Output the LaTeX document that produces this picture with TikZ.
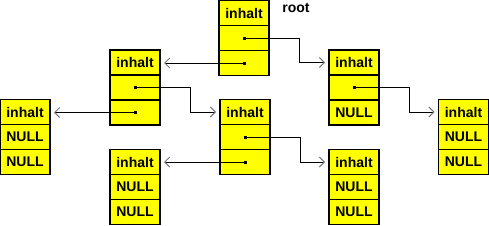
\documentclass[tikz,border=0pt]{standalone}
\usepackage{fontspec}
\setmainfont{Liberation Sans}
\usetikzlibrary{positioning,arrows.meta}
\definecolor{boxfill}{HTML}{FFFF00}
\definecolor{tipc}{HTML}{777777}

\begin{document}
\begin{tikzpicture}[
  x=1pt,y=-1pt,
  font=\bfseries\fontsize{14}{16}\selectfont,
  >={Straight Barb[length=5pt,width=10pt,color=tipc]},
  cell/.style={draw,fill=boxfill,line width=1.6pt,minimum width=50pt,
               minimum height=25pt,inner sep=0pt,outer sep=0pt},
  dot/.style={fill,inner sep=0pt,minimum size=3pt},
  ptr/.style={->,line width=1pt,shorten >=4pt},
]
\useasboundingbox (0,0) rectangle (489,225);

%----------------------------------------------------------------- nodes ---
\foreach \nm/\x/\y/\b/\c in {root/244/13/{}/{}, l/135/62.5/{}/{},
    ll/25/112/NULL/NULL, lr/245/112/{}/{}, lrl/135/162/NULL/NULL,
    r/354/62.5/{}/NULL, lrr/354/162/NULL/NULL, rr/463.5/112/NULL/NULL}{
  \node[cell] (\nm-1) at (\x,\y) {inhalt};
  \node[cell,below=0pt of \nm-1] (\nm-2) {\b};
  \node[cell,below=0pt of \nm-2] (\nm-3) {\c};
}
\node (rootlbl) at (296,8) {root};

%-------------------------------------------------------------- pointers ---
\foreach \p in {root-2,root-3,l-2,l-3,lr-2,lr-3,r-2}{
  \node[dot] (\p d) at (\p) {};
}

\foreach \a/\b in {root/r, l/lr, lr/lrr, r/rr}{
  \draw[ptr] (\a-2d.center) -- ++(55,0) |- (\b-1.west);}
\foreach \a/\b in {root/l, l/ll, lr/lrl}{
  \draw[ptr] (\a-3d.center) -- (\a-3d.center -| \b-1.east);}

\end{tikzpicture}
\end{document}
